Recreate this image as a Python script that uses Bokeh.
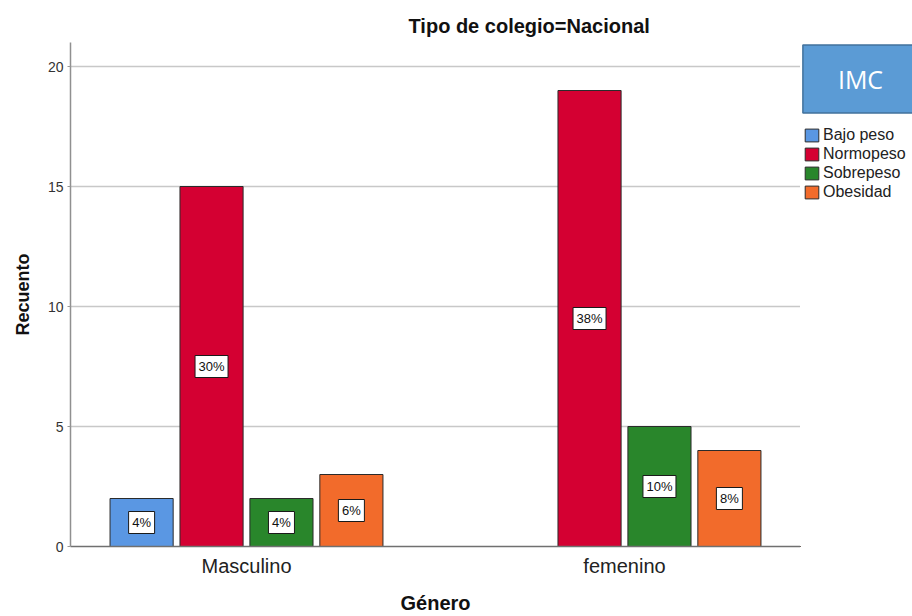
from bokeh.plotting import figure
from bokeh.layouts import row
from bokeh.models import Range1d, FixedTicker, Legend, LegendItem, Label, ColumnDataSource
from bokeh.core.properties import value
from bokeh.embed import file_html
from bokeh.resources import INLINE

# Counts per gender and BMI class
genero = ["Masculino", "femenino"]
imc = ["Bajo peso", "Normopeso", "Sobrepeso", "Obesidad"]
bajo_peso = [2, 0]
normopeso = [15, 19]
sobrepeso = [2, 5]
obesidad = [3, 4]
colores = ["#5A97E3", "#D40032", "#29862B", "#F26B2B"]
yticks = [0, 5, 10, 15, 20]

series = [bajo_peso, normopeso, sobrepeso, obesidad]
total = sum(sum(s) for s in series)

FONT = "Liberation Sans"
BAR_W = 0.167
STEP = 0.185
OUTLINE = "#2b2b2b"

p = figure(width=800, height=616, output_backend="svg", toolbar_location=None,
           x_range=Range1d(-0.4656, 1.4656), y_range=Range1d(0, 21),
           min_border_left=70, min_border_right=0, min_border_top=42,
           min_border_bottom=70, outline_line_color=None)

lab_x, lab_y, lab_t, lab_w = [], [], [], []
for i, (name, vals, col) in enumerate(zip(imc, series, colores)):
    off = (i - 1.5) * STEP
    xs = [g + off for g, v in enumerate(vals) if v > 0]
    ys = [v for v in vals if v > 0]
    p.vbar(x=xs, top=ys, width=BAR_W, bottom=0, fill_color=col,
           line_color=OUTLINE, line_width=1)
    for x, v in zip(xs, ys):
        t = f"{round(100 * v / total)}%"
        lab_x.append(x)
        lab_y.append(v / 2)
        lab_t.append(t)
        lab_w.append(12 + 7 * len(t))

# Percentage boxes centred in each bar
src = ColumnDataSource(dict(x=lab_x, y=lab_y, t=lab_t, w=lab_w))
p.rect(x="x", y="y", width="w", height=22, width_units="screen",
       height_units="screen", fill_color="white", line_color="#1a1a1a",
       line_width=1, source=src)
p.text(x="x", y="y", text="t", text_align="center", text_baseline="middle",
       text_font=value(FONT), text_font_size="13px", text_color="#111111",
       source=src)

# Title
p.title.text = "Tipo de colegio=Nacional"
p.title.align = "left"
p.title.offset = 338
p.title.standoff = 12
p.title.text_font = FONT
p.title.text_font_size = "20px"
p.title.text_font_style = "bold"
p.title.text_color = "#111111"

# Axes
p.xaxis.ticker = FixedTicker(ticks=[0, 1])
p.xaxis.major_label_overrides = {0: genero[0], 1: genero[1]}
p.xaxis.major_tick_out = 0
p.xaxis.major_tick_in = 0
p.xaxis.minor_tick_line_color = None
p.xaxis.major_label_text_font = FONT
p.xaxis.major_label_text_font_size = "20px"
p.xaxis.major_label_text_color = "#222222"
p.xaxis.major_label_standoff = 8
p.xaxis.axis_label = "Género"
p.xaxis.axis_label_text_font = FONT
p.xaxis.axis_label_text_font_size = "20px"
p.xaxis.axis_label_text_font_style = "bold"
p.xaxis.axis_label_text_color = "#111111"
p.xaxis.axis_label_standoff = 12
p.xaxis.axis_line_color = "#707070"
p.xaxis.axis_line_width = 1.5

p.yaxis.ticker = FixedTicker(ticks=yticks)
p.yaxis.major_tick_out = 3
p.yaxis.major_tick_in = 0
p.yaxis.major_tick_line_color = "#999999"
p.yaxis.minor_tick_line_color = None
p.yaxis.major_label_text_font = FONT
p.yaxis.major_label_text_font_size = "14px"
p.yaxis.major_label_text_color = "#333333"
p.yaxis.major_label_standoff = 4
p.yaxis.axis_label = "Recuento"
p.yaxis.axis_label_text_font = FONT
p.yaxis.axis_label_text_font_size = "18px"
p.yaxis.axis_label_text_font_style = "bold"
p.yaxis.axis_label_text_color = "#111111"
p.yaxis.axis_label_standoff = 12
p.yaxis.axis_line_color = "#909090"
p.yaxis.axis_line_width = 1.5

p.xgrid.grid_line_color = None
p.ygrid.grid_line_color = "#C8C8C8"
p.ygrid.grid_line_width = 1.5

# Side panel holding the legend header and the legend (frame aligned with p)
side = figure(width=112, height=616, output_backend="svg", toolbar_location=None,
              x_range=Range1d(0, 1), y_range=Range1d(0, 1),
              x_axis_location=None, y_axis_location=None,
              min_border_left=0, min_border_right=0, min_border_top=42,
              min_border_bottom=70, outline_line_color=None)
side.grid.grid_line_color = None

# Swatch renderers sit well outside the visible range; only their legend glyphs show
items = []
for name, col in zip(imc, colores):
    r = side.vbar(x=[-10], top=[-5], bottom=[-6], width=0.1, fill_color=col,
                  line_color=OUTLINE, line_width=1)
    items.append(LegendItem(label=name, renderers=[r]))

imc_box = Label(x=60, y=467.5, x_units="screen", y_units="screen", text="IMC",
                text_align="center", text_baseline="middle",
                text_font="Open Sans", text_font_size="25px", text_color="white",
                background_fill_color="#5B9BD5", border_line_color="#41719C",
                border_line_width=1.5, padding=(35, 35, 17, 17))
side.add_layout(imc_box)

legend = Legend(items=items, location=(3, 345), padding=0, margin=0,
                spacing=0, glyph_width=17, glyph_height=16, label_height=19,
                label_standoff=3, label_text_font=FONT,
                label_text_font_size="16px", label_text_color="#222222",
                border_line_color=None, background_fill_alpha=0)
side.add_layout(legend)

layout = row(p, side, spacing=0)
open("out.html", "w").write(file_html(layout, INLINE))
